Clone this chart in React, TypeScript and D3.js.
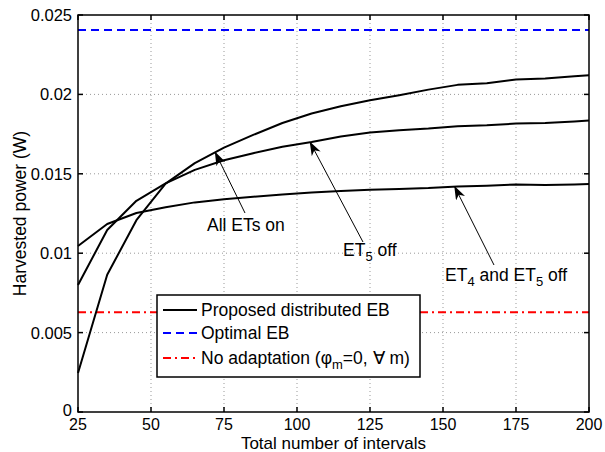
import * as d3 from "d3";
import React, { useRef, useEffect } from "react";

// intervals (x) and harvested power for each configuration
const intervals = [25, 35, 45, 55, 65, 75, 85, 95, 105, 115, 125, 135, 145, 155, 165, 175, 185, 195, 200];
const allETsOn = [0.00246, 0.00864, 0.01208, 0.01438, 0.01567, 0.01665, 0.01745, 0.0182, 0.0188, 0.01925, 0.01963, 0.01995, 0.0203, 0.0206, 0.0207, 0.02094, 0.021, 0.02115, 0.0212];
const et5Off = [0.008, 0.01146, 0.0133, 0.0144, 0.01525, 0.01585, 0.0163, 0.0167, 0.017, 0.01735, 0.0176, 0.01775, 0.01785, 0.018, 0.01805, 0.01816, 0.0182, 0.0183, 0.01835];
const et45Off = [0.01045, 0.01184, 0.01253, 0.0129, 0.0132, 0.0134, 0.01355, 0.0137, 0.01382, 0.01392, 0.014, 0.01405, 0.0141, 0.0142, 0.01425, 0.01433, 0.0143, 0.01433, 0.01435];
const optimalEB = 0.02406;
const noAdaptation = 0.00628;

const xTicks = [25, 50, 75, 100, 125, 150, 175, 200];
const yTicks = [0, 0.005, 0.01, 0.015, 0.02, 0.025];
const yTickLabels = ["0", "0.005", "0.01", "0.015", "0.02", "0.025"];

const W = 605;
const H = 452;
const left = 78, right = 589, top = 15, bottom = 412;
const font = "'Liberation Sans', Arial, Helvetica, sans-serif";
const fs = 17.5;   // labels / legend
const tfs = 16.5;  // tick labels

export default function App() {
  const svgRef = useRef<SVGSVGElement>(null);

  useEffect(() => {
    const svg = d3.select(svgRef.current);
    svg.selectAll("*").remove();

    const x = d3.scaleLinear().domain([25, 200]).range([left, right]);
    const y = d3.scaleLinear().domain([0, 0.025]).range([bottom, top]);

    svg.append("rect").attr("width", W).attr("height", H).attr("fill", "white");

    // arrow marker
    svg.append("defs").append("marker")
      .attr("id", "arr")
      .attr("viewBox", "0 0 14 10")
      .attr("refX", 13).attr("refY", 5)
      .attr("markerWidth", 14).attr("markerHeight", 10)
      .attr("markerUnits", "userSpaceOnUse")
      .attr("orient", "auto")
      .append("path")
      .attr("d", "M0,0 L14,5 L0,10 L4,5 Z")
      .attr("fill", "black");

    // grid
    const grid = svg.append("g").attr("stroke", "#999").attr("stroke-width", 1).attr("stroke-dasharray", "1,3");
    xTicks.slice(1, -1).forEach(t => {
      grid.append("line").attr("x1", x(t)).attr("x2", x(t)).attr("y1", top).attr("y2", bottom);
    });
    yTicks.slice(1, -1).forEach(t => {
      grid.append("line").attr("x1", left).attr("x2", right).attr("y1", y(t)).attr("y2", y(t));
    });

    // reference lines
    svg.append("line")
      .attr("x1", left).attr("x2", right).attr("y1", y(optimalEB)).attr("y2", y(optimalEB))
      .attr("stroke", "#0000ff").attr("stroke-width", 2).attr("stroke-dasharray", "8,5");
    svg.append("line")
      .attr("x1", left).attr("x2", right).attr("y1", y(noAdaptation)).attr("y2", y(noAdaptation))
      .attr("stroke", "#ff0000").attr("stroke-width", 2).attr("stroke-dasharray", "8,4,2,4");

    // curves
    const line = d3.line<number>().x((d, i) => x(intervals[i])).y(d => y(d));
    [allETsOn, et5Off, et45Off].forEach(s => {
      svg.append("path").attr("d", line(s)).attr("fill", "none")
        .attr("stroke", "black").attr("stroke-width", 2).attr("stroke-linejoin", "round");
    });

    // box + ticks
    const ax = svg.append("g").attr("stroke", "black").attr("stroke-width", 1.5);
    ax.append("rect").attr("x", left).attr("y", top).attr("width", right - left).attr("height", bottom - top).attr("fill", "none");
    xTicks.forEach(t => {
      ax.append("line").attr("x1", x(t)).attr("x2", x(t)).attr("y1", bottom).attr("y2", bottom - 5);
      ax.append("line").attr("x1", x(t)).attr("x2", x(t)).attr("y1", top).attr("y2", top + 5);
    });
    yTicks.forEach(t => {
      ax.append("line").attr("x1", left).attr("x2", left + 5).attr("y1", y(t)).attr("y2", y(t));
      ax.append("line").attr("x1", right).attr("x2", right - 5).attr("y1", y(t)).attr("y2", y(t));
    });

    // tick labels
    xTicks.forEach(t => {
      svg.append("text").attr("x", x(t)).attr("y", bottom + 17.5)
        .attr("text-anchor", "middle").attr("font-family", font).attr("font-size", 16).text(t);
    });
    yTicks.forEach((t, i) => {
      svg.append("text").attr("x", left - 6).attr("y", y(t) + (i === 0 ? 4 : 6))
        .attr("text-anchor", "end").attr("font-family", font).attr("font-size", tfs).text(yTickLabels[i]);
    });

    // axis titles
    svg.append("text").attr("x", (left + right) / 2).attr("y", 449)
      .attr("text-anchor", "middle").attr("font-family", font).attr("font-size", 17)
      .text("Total number of intervals");
    svg.append("text").attr("transform", `translate(26,${(top + bottom) / 2}) rotate(-90)`)
      .attr("text-anchor", "middle").attr("font-family", font).attr("font-size", fs)
      .text("Harvested power (W)");

    // annotations
    const note = (tx: number, ty: number, parts: [string, boolean][]) => {
      const t = svg.append("text").attr("x", tx).attr("y", ty).attr("font-family", font).attr("font-size", fs);
      let sub = false;
      parts.forEach(([s, isSub]) => {
        const ts = t.append("tspan").text(s);
        if (isSub && !sub) ts.attr("dy", 5).attr("font-size", 13);
        if (!isSub && sub) ts.attr("dy", -5);
        sub = isSub;
      });
    };
    const arrow = (x1: number, y1: number, xv: number, yv: number) => {
      svg.append("line").attr("x1", x1).attr("y1", y1).attr("x2", x(xv)).attr("y2", y(yv))
        .attr("stroke", "black").attr("stroke-width", 1).attr("marker-end", "url(#arr)");
    };

    arrow(245, 213, 72, 0.01635);
    note(207, 231, [["All ETs on", false]]);

    arrow(363, 242, 104.5, 0.01698);
    note(343, 256, [["ET", false], ["5", true], [" off", false]]);

    arrow(494, 265, 154, 0.01419);
    note(445, 281, [["ET", false], ["4", true], [" and ET", false], ["5", true], [" off", false]]);

    // legend
    const lg = svg.append("g");
    lg.append("rect").attr("x", 157).attr("y", 295).attr("width", 263).attr("height", 82)
      .attr("fill", "white").attr("stroke", "black").attr("stroke-width", 1.5);
    const rows: { y: number; color: string; dash: string | null }[] = [
      { y: 310, color: "black", dash: null },
      { y: 333, color: "#0000ff", dash: "8,5" },
      { y: 358, color: "#ff0000", dash: "8,4,2,4" },
    ];
    rows.forEach(r => {
      const l = lg.append("line").attr("x1", 163).attr("x2", 197).attr("y1", r.y).attr("y2", r.y)
        .attr("stroke", r.color).attr("stroke-width", 2);
      if (r.dash) l.attr("stroke-dasharray", r.dash);
    });
    lg.append("text").attr("x", 201).attr("y", 316).attr("font-family", font).attr("font-size", fs)
      .text("Proposed distributed EB");
    lg.append("text").attr("x", 201).attr("y", 339).attr("font-family", font).attr("font-size", fs)
      .text("Optimal EB");
    const t3 = lg.append("text").attr("x", 201).attr("y", 364).attr("font-family", font).attr("font-size", fs);
    t3.append("tspan").text("No adaptation (\u03c6");
    t3.append("tspan").attr("dy", 5).attr("font-size", 13).text("m");
    t3.append("tspan").attr("dy", -5).text("=0, \u2200 m)");
  });

  return (
    <svg ref={svgRef} width={W} height={H}
      style={{ position: "absolute", left: 0, top: 0, display: "block" }} />
  );
}
